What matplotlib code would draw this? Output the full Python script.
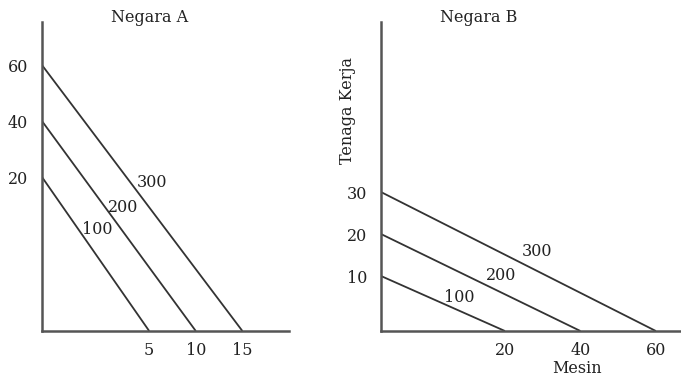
import numpy as np
import matplotlib.pyplot as plt

plt.rcParams['font.family'] = ['DejaVu Serif']

output = ['100', '200', '300']

# Negara A: mesin (x) dan tenaga kerja (y) pada tiap isokuan
a_mesin = [5, 10, 15]
a_tenaga = [20, 40, 60]

# Negara B
b_mesin = [20, 40, 60]
b_tenaga = [10, 20, 30]


def gap_scale(off):
    # sketch-style axis: origin sits a bit before the first value
    def fwd(v):
        v = np.asarray(v, dtype=float)
        return np.where(v > 0, v + off, 0.0)

    def inv(u):
        u = np.asarray(u, dtype=float)
        return np.where(u > off, u - off, 0.0)
    return fwd, inv


fig = plt.figure(figsize=(6.81, 3.77), dpi=100)
ax_a = fig.add_axes([42 / 681, 46 / 377, 247 / 681, 309 / 377])
ax_b = fig.add_axes([381 / 681, 46 / 377, 299 / 681, 309 / 377])

fs = 11.5
line_kw = dict(color='#333333', lw=1.3, solid_capstyle='butt')
txt_kw = dict(fontsize=fs, color='#222222', ha='center', va='center')

# --- Negara A
ax_a.set_xscale('function', functions=gap_scale(6.5))
ax_a.set_yscale('function', functions=gap_scale(35))
ax_a.set_xlim(0, 20)
ax_a.set_ylim(0, 75.4)
for m, t in zip(a_mesin, a_tenaga):
    ax_a.plot([0, m], [t, 0], **line_kw)
ax_a.set_xticks(a_mesin)
ax_a.set_yticks(a_tenaga)
ax_a.text(0.437, 1.013, 'Negara A', transform=ax_a.transAxes, **txt_kw)
for lab, (x, y) in zip(output, [(0.223, 0.327), (0.328, 0.401), (0.445, 0.479)]):
    ax_a.text(x, y, lab, transform=ax_a.transAxes, **txt_kw)

# --- Negara B
ax_b.set_xscale('function', functions=gap_scale(12.85))
ax_b.set_yscale('function', functions=gap_scale(3.1))
ax_b.set_xlim(0, 66.4)
ax_b.set_ylim(0, 70.5)
for m, t in zip(b_mesin, b_tenaga):
    ax_b.plot([0, m], [t, 0], **line_kw)
ax_b.set_xticks(b_mesin)
ax_b.set_yticks(b_tenaga)
ax_b.text(0.327, 1.013, 'Negara B', transform=ax_b.transAxes, **txt_kw)
for lab, (x, y) in zip(output, [(0.263, 0.107), (0.403, 0.181), (0.523, 0.256)]):
    ax_b.text(x, y, lab, transform=ax_b.transAxes, **txt_kw)
ax_b.set_ylabel('Tenaga Kerja', fontsize=fs, color='#222222', va='center')
ax_b.yaxis.set_label_coords(-0.113, 0.715)
ax_b.set_xlabel('Mesin', fontsize=fs, color='#222222', va='center')
ax_b.xaxis.set_label_coords(0.657, -0.12)

for ax in (ax_a, ax_b):
    ax.spines['top'].set_visible(False)
    ax.spines['right'].set_visible(False)
    for s in ('left', 'bottom'):
        ax.spines[s].set_linewidth(1.8)
        ax.spines[s].set_color('#555555')
    ax.tick_params(length=0, labelsize=fs, labelcolor='#222222')
    ax.tick_params(axis='x', pad=8)
    ax.tick_params(axis='y', pad=10)
    ax.set_facecolor('none')

fig.savefig('out.png', dpi=100)
